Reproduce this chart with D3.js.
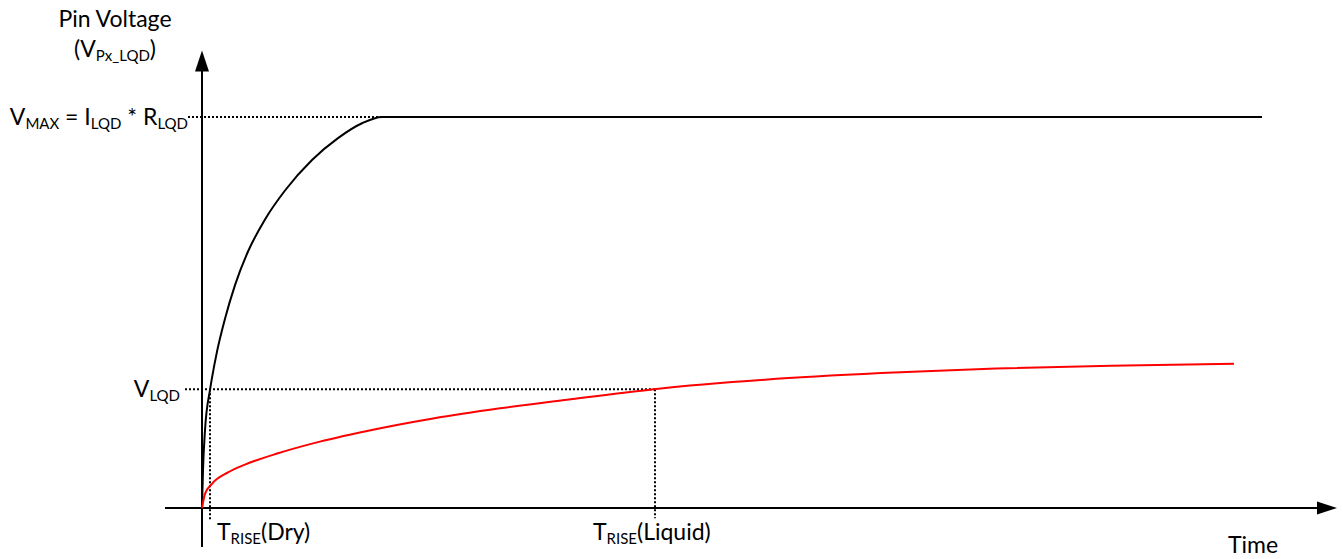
<!DOCTYPE html>
<html>
<head>
<meta charset="utf-8">
<script src="https://cdn.jsdelivr.net/npm/d3@7"></script>
<style>
  html, body { margin: 0; padding: 0; background: #fff; }
  svg { display: block; }
  text { font-family: Lato, "Open Sans", "Liberation Sans", sans-serif; fill: #000; }
</style>
</head>
<body>
<svg id="chart" width="1343" height="559"></svg>
<script>
// ---- data (time in arbitrary units, voltage as a fraction of V_MAX) ----
const dryTime = [0, 1, 3, 8, 10, 15, 23, 33, 46, 63, 83, 110, 136, 160, 180, 1060];
const dryVolt = [0, 0.097, 0.199, 0.302, 0.333, 0.400, 0.484, 0.570, 0.656, 0.738, 0.812, 0.890, 0.946, 0.984, 1.0, 1.0];
const liqTime = [0, 3, 10, 26, 43, 76, 112, 165, 231, 298, 365, 452, 563, 679, 794, 909, 1032];
const liqVolt = [0, 0.036, 0.062, 0.091, 0.111, 0.140, 0.166, 0.197, 0.229, 0.255, 0.277, 0.304, 0.328, 0.345, 0.357, 0.364, 0.369];
const vMax = 1.0;
const vLqd = 0.304;
const tRiseDry = 8;
const tRiseLiquid = 453;

// ---- scales ----
const svg = d3.select("#chart");
const x = d3.scaleLinear().domain([0, 1135]).range([202, 1337]);
const y = d3.scaleLinear().domain([0, 1]).range([508, 117]);

const xAxisStart = -37, xAxisEnd = 1135;
const yAxisStart = -0.1, yAxisEnd = 1.17;

// ---- guide (dotted) lines ----
const dotted = (x1, y1, x2, y2) => svg.append("line")
  .attr("x1", x1).attr("y1", y1).attr("x2", x2).attr("y2", y2)
  .attr("stroke", "#000").attr("stroke-width", 2)
  .attr("stroke-dasharray", "2,2");

dotted(x(-14), y(vMax), x(283), y(vMax));
dotted(x(-17), y(vLqd), x(tRiseLiquid), y(vLqd));
dotted(x(tRiseDry), y(vLqd), x(tRiseDry), y(-0.03));
dotted(x(tRiseLiquid), y(vLqd), x(tRiseLiquid), y(-0.026));

// ---- axes with arrowheads ----
svg.append("line")
  .attr("x1", x(xAxisStart)).attr("y1", y(0))
  .attr("x2", x(xAxisEnd) - 10).attr("y2", y(0))
  .attr("stroke", "#000").attr("stroke-width", 2);
svg.append("path")
  .attr("d", `M${x(xAxisEnd)},${y(0)} L${x(xAxisEnd) - 20},${y(0) - 6.5} L${x(xAxisEnd) - 20},${y(0) + 6.5} Z`)
  .attr("fill", "#000");

svg.append("line")
  .attr("x1", x(0)).attr("y1", y(yAxisStart))
  .attr("x2", x(0)).attr("y2", y(yAxisEnd) + 10)
  .attr("stroke", "#000").attr("stroke-width", 2);
svg.append("path")
  .attr("d", `M${x(0)},${y(yAxisEnd)} L${x(0) - 7},${y(yAxisEnd) + 21} L${x(0) + 7},${y(yAxisEnd) + 21} Z`)
  .attr("fill", "#000");

// ---- curves ----
const line = d3.line().x(d => x(d[0])).y(d => y(d[1])).curve(d3.curveMonotoneX);

svg.append("path")
  .datum(d3.zip(dryTime, dryVolt))
  .attr("d", line)
  .attr("fill", "none").attr("stroke", "#000").attr("stroke-width", 2);

svg.append("path")
  .datum(d3.zip(liqTime, liqVolt))
  .attr("d", line)
  .attr("fill", "none").attr("stroke", "#ff0000").attr("stroke-width", 2);

// ---- labels with subscripts ----
const FS = 23, SFS = 15;
function label(px, py, parts, anchor) {
  const t = svg.append("text").attr("x", px).attr("y", py)
    .attr("text-anchor", anchor || "start").attr("font-size", FS);
  let sub = false;
  parts.forEach(p => {
    const isSub = p[1] === "sub";
    const ts = t.append("tspan").text(p[0]);
    if (isSub) {
      ts.attr("font-size", SFS);
      if (!sub) ts.attr("dy", 4);
    } else if (sub) {
      ts.attr("dy", -4);
    }
    sub = isSub;
  });
  return t;
}

label(115, 27, [["Pin Voltage"]], "middle");
label(115, 57, [["("], ["V"], ["Px_LQD", "sub"], [")"]], "middle");
label(188, y(vMax) + 8, [["V"], ["MAX", "sub"], [" = I"], ["LQD", "sub"], [" * R"], ["LQD", "sub"]], "end");
label(180, y(vLqd) + 8, [["V"], ["LQD", "sub"]], "end");
label(x(tRiseDry) + 7, 540, [["T"], ["RISE", "sub"], ["(Dry)"]]);
label(x(tRiseLiquid) - 62, 540, [["T"], ["RISE", "sub"], ["(Liquid)"]]);
label(1228, 553, [["Time"]]);
</script>
</body>
</html>
